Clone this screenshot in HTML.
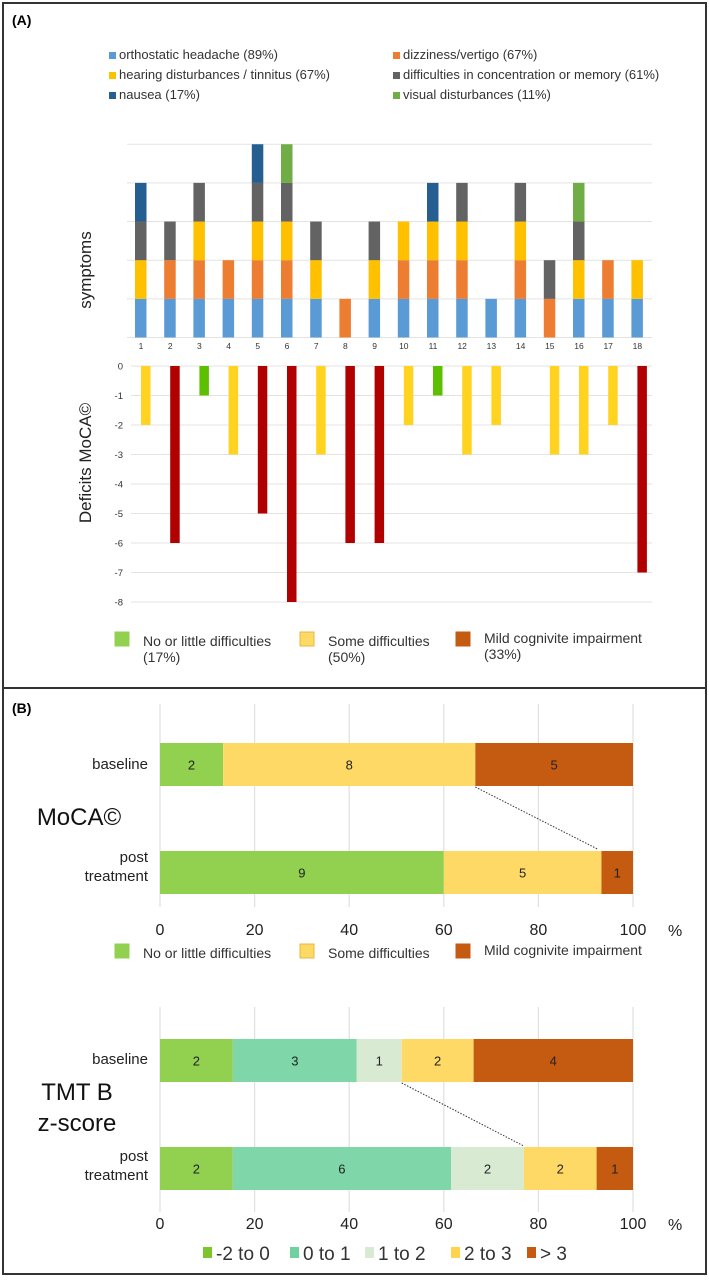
<!DOCTYPE html>
<html><head><meta charset="utf-8"><style>
body{margin:0;background:#fff;font-family:"Liberation Sans",Arial,sans-serif}
svg text{font-family:"Liberation Sans",Arial,sans-serif}
</style></head><body>
<svg id="fig" width="709" height="1277" viewBox="0 0 709 1277" xmlns="http://www.w3.org/2000/svg">
<rect x="3" y="3" width="703" height="685" fill="none" stroke="#333" stroke-width="2"/>
<rect x="3" y="688" width="703" height="586" fill="none" stroke="#333" stroke-width="2"/>
<text x="12" y="25" font-size="14" font-weight="bold">(A)</text>
<text x="12" y="713" font-size="14" font-weight="bold">(B)</text>
<text transform="translate(91,270) rotate(-90)" text-anchor="middle" font-size="17" fill="#222">symptoms</text>
<text transform="translate(91,463) rotate(-90)" text-anchor="middle" font-size="17" fill="#222">Deficits MoCA©</text>
<text x="79" y="825" text-anchor="middle" font-size="24" fill="#111">MoCA©</text>
<text x="77" y="1100" text-anchor="middle" font-size="24" fill="#111">TMT B</text>
<text x="77" y="1131" text-anchor="middle" font-size="24" fill="#111">z-score</text>
<g id="gA"></g><g id="gB"></g>
</svg>
<script>
// symptoms chart data (1 = present)
const patients=["1","2","3","4","5","6","7","8","9","10","11","12","13","14","15","16","17","18"];
const symptomNames=["orthostatic headache (89%)","dizziness/vertigo (67%)","hearing disturbances / tinnitus (67%)","difficulties in concentration or memory (61%)","nausea (17%)","visual disturbances (11%)"];
const headache=[1,1,1,1,1,1,1,0,1,1,1,1,1,1,0,1,1,1];
const dizziness=[0,1,1,1,1,1,0,1,0,1,1,1,0,1,1,0,1,0];
const hearing=[1,0,1,0,1,1,1,0,1,1,1,1,0,1,0,1,0,1];
const concentration=[1,1,1,0,1,1,1,0,1,0,0,1,0,1,1,1,0,0];
const nausea=[1,0,0,0,1,0,0,0,0,0,1,0,0,0,0,0,0,0];
const visual=[0,0,0,0,0,1,0,0,0,0,0,0,0,0,0,1,0,0];
// MoCA deficits
const mocaDeficit=[-2,-6,-1,-3,-5,-8,-3,-6,-6,-2,-1,-3,-2,0,-3,-3,-2,-7];
const mocaGroup=["some","mci","none","some","mci","mci","some","mci","mci","some","none","some","some","none","some","some","some","mci"];
const mocaTicks=[0,-1,-2,-3,-4,-5,-6,-7,-8];
const mocaLegend=[["No or little difficulties","(17%)"],["Some difficulties","(50%)"],["Mild cognivite impairment","(33%)"]];
// Panel B
const rows=["baseline","post treatment"];
const mocaBase=[2,8,5];
const mocaPost=[9,5,1];
const mocaCats=["No or little difficulties","Some difficulties","Mild cognivite impairment"];
const tmtBasePct=[15.4,26.2,9.5,15.2,33.7];
const tmtBaseLbl=[2,3,1,2,4];
const tmtPost=[2,6,2,2,1];
const tmtCats=["-2 to 0","0 to 1","1 to 2","2 to 3","> 3"];
const xTicks=[0,20,40,60,80,100];

const NS="http://www.w3.org/2000/svg";
function mk(p,t,a){const e=document.createElementNS(NS,t);for(const k in a)e.setAttribute(k,a[k]);p.appendChild(e);return e;}
const gA=document.getElementById('gA'),gB=document.getElementById('gB');
const symCols=["#5b9bd5","#ed7d31","#ffc000","#636363","#255e91","#70ad47"];
const series=[headache,dizziness,hearing,concentration,nausea,visual];
const xc=i=>141+i*29.2;
const yS=v=>337.5-v*38.65;
// legend A
symptomNames.forEach((n,i)=>{const c=i%2,r=Math.floor(i/2);const x=c?393:109,y=57+r*20;
 const s=mk(gA,'rect',{x:x,y:y-5,width:7,height:7,fill:symCols[i]});
 
 const t=mk(gA,'text',{x:x+10,y:y+2,'font-size':13,fill:'#333'});t.textContent=n;
 });
for(let v=0;v<=5;v++){const l=mk(gA,'line',{x1:127,x2:652,y1:yS(v),y2:yS(v),stroke:'#e3e3e3','stroke-width':1});
 }
patients.forEach((p,i)=>{let acc=0;series.forEach((s,k)=>{if(s[i]){const r=mk(gA,'rect',{x:xc(i)-6,y:yS(acc+s[i]),width:11.5,height:yS(acc)-yS(acc+s[i]),fill:symCols[k]});
 acc+=s[i];}});
 const t=mk(gA,'text',{x:xc(i),y:349,'text-anchor':'middle','font-size':8.5,fill:'#333'});t.textContent=p;
 });
// MoCA
const yM=v=>366-v*29.5;
const mCol={none:"#5cc000",some:"#ffd320",mci:"#b00000"};
mocaTicks.forEach(v=>{const l=mk(gA,'line',{x1:131,x2:652,y1:yM(v),y2:yM(v),stroke:'#e3e3e3'});
 
 const t=mk(gA,'text',{x:123,y:yM(v)+3.5,'text-anchor':'end','font-size':9.5,fill:'#333'});t.textContent=v;
 });
mocaDeficit.forEach((v,i)=>{if(v<0){const r=mk(gA,'rect',{x:xc(i),y:yM(0),width:9.5,height:yM(v)-yM(0),fill:mCol[mocaGroup[i]]});
 }});
const lgX=[115,300,456],lgC=["#92d050","#ffd966","#c55a11"],lgS=["#92d050","#e6b83c","#c55a11"];
mocaLegend.forEach((m,i)=>{const s=mk(gA,'rect',{x:lgX[i],y:632,width:14,height:14,fill:lgC[i],stroke:lgS[i]});
 
 const t=mk(gA,'text',{x:lgX[i]+28,y:i==2?643:646,'font-size':14,fill:'#333'});t.textContent=m[0];
 
 const t2=mk(gA,'text',{x:lgX[i]+28,y:i==2?659:662,'font-size':14,fill:'#333'});t2.textContent=m[1];
 });
// Panel B
const xB=v=>160+v*4.73;
function grid(top,bot,ty){xTicks.forEach(v=>{const l=mk(gB,'line',{x1:xB(v),x2:xB(v),y1:top,y2:bot,stroke:'#e0e0e0','stroke-width':1.2});
 
 const t=mk(gB,'text',{x:xB(v),y:ty,'text-anchor':'middle','font-size':16,fill:'#222'});t.textContent=v;
 });
 const p=mk(gB,'text',{x:668,y:ty+1,'font-size':16,fill:'#222'});p.textContent='%';
 }
function rowLabels(yb,yp){const t=mk(gB,'text',{x:148,y:yb+5,'text-anchor':'end','font-size':15,fill:'#222'});t.textContent=rows[0];
 
 const a=mk(gB,'text',{x:148,y:yp-4,'text-anchor':'end','font-size':15,fill:'#222'});a.textContent='post';
 
 const b=mk(gB,'text',{x:148,y:yp+15,'text-anchor':'end','font-size':15,fill:'#222'});b.textContent='treatment';
 }
function stack(pcts,lbls,cols,y,h){let acc=0;const ends=[];pcts.forEach((p,i)=>{const r=mk(gB,'rect',{x:xB(acc),y:y,width:xB(acc+p)-xB(acc),height:h,fill:cols[i]});
 
 const t=mk(gB,'text',{x:(xB(acc)+xB(acc+p))/2,y:y+h/2+5,'text-anchor':'middle','font-size':13,fill:'#222'});t.textContent=lbls[i];
 acc+=p;ends.push(acc);});return ends;}
const pct=a=>{const s=a.reduce((x,y)=>x+y,0);return a.map(v=>v/s*100);};
grid(704,907,935);rowLabels(764,866);
const mb=stack(pct(mocaBase),mocaBase,lgC,743,43);
const mp=stack(pct(mocaPost),mocaPost,lgC,851,43);
let dl=mk(gB,'line',{x1:xB(mb[1]),y1:787,x2:xB(mp[1])-4,y2:849,stroke:'#333','stroke-width':1,'stroke-dasharray':'1.5,1.5'});

mocaCats.forEach((n,i)=>{const s=mk(gB,'rect',{x:lgX[i],y:944,width:14,height:14,fill:lgC[i],stroke:lgS[i]});
 
 const t=mk(gB,'text',{x:lgX[i]+28,y:i==2?955:958,'font-size':14,fill:'#333'});t.textContent=n;
 });
const tCols=["#92d050","#7fd6a8","#d9ead3","#ffd966","#c55a11"];
grid(1007,1212,1229);rowLabels(1059,1165);
const tb=stack(tmtBasePct,tmtBaseLbl,tCols,1039,43);
const tp=stack(pct(tmtPost),tmtPost,tCols,1147,43);
dl=mk(gB,'line',{x1:xB(tb[2]),y1:1083,x2:xB(tp[2]),y2:1146,stroke:'#333','stroke-width':1,'stroke-dasharray':'1.5,1.5'});

const tLx=[203,290,365,451,527],tSw=["#7cc52c","#6fd0a0","#d9ead3","#ffd34d","#c55a11"];
tmtCats.forEach((n,i)=>{const s=mk(gB,'rect',{x:tLx[i],y:1247,width:9,height:11,fill:tSw[i]});
 
 const t=mk(gB,'text',{x:tLx[i]+13,y:1260,'font-size':19,fill:'#333'});t.textContent=n;
 });
</script>
</body></html>
